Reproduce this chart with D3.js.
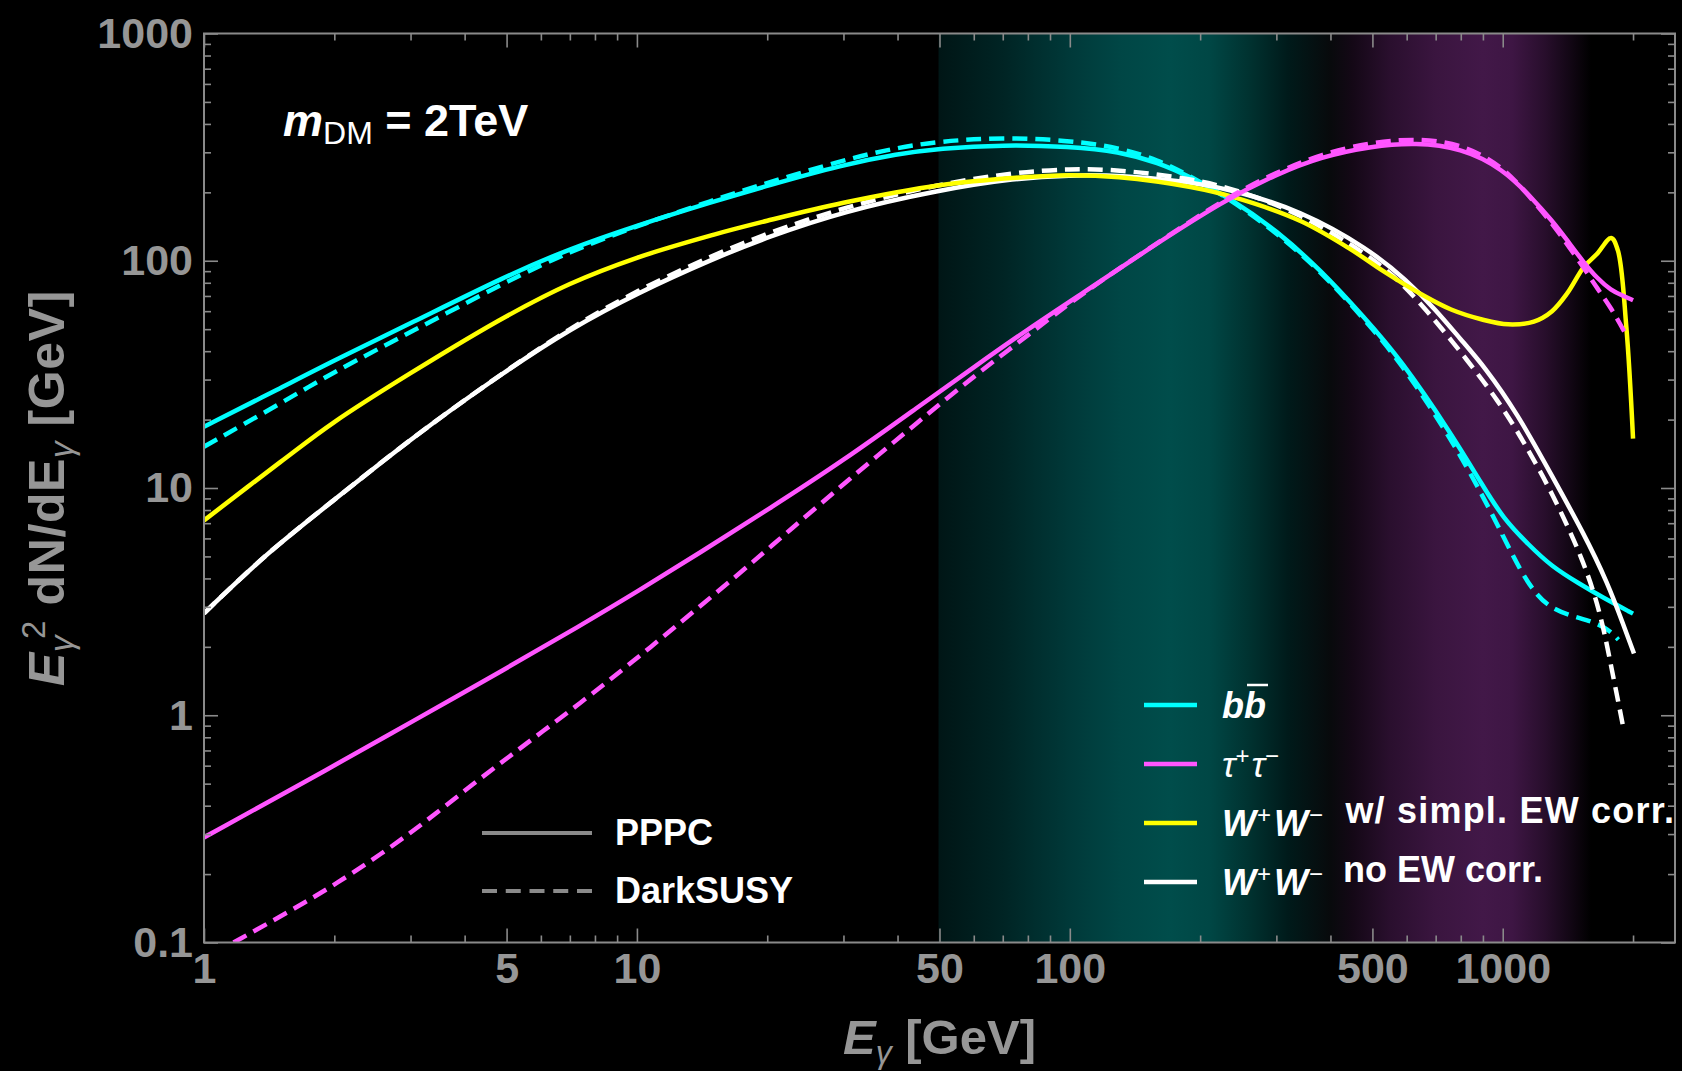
<!DOCTYPE html>
<html>
<head>
<meta charset="utf-8">
<script src="https://cdn.jsdelivr.net/npm/d3@7"></script>
<style>
  html, body { margin: 0; padding: 0; background: #000; }
  svg { display: block; }
  text { font-family: "Liberation Sans", Arial, Helvetica, sans-serif; white-space: pre; }
</style>
</head>
<body>
<div id="chart"></div>
<script>
// [E_gamma (GeV), E^2 dN/dE (GeV)], m_DM = 2 TeV
const bbPPPC = [[1, 18.6], [1.5, 27.5], [2, 36.5], [3, 53], [5, 86], [7, 113], [10, 143], [15, 182], [20, 214],
  [30, 265], [40, 295], [50, 312], [70, 324], [100, 318], [130, 303], [160, 270], [190, 234], [240, 183],
  [300, 136], [380, 91], [480, 56], [580, 37], [760, 17.4], [900, 10.2], [1000, 7.4], [1150, 5.6], [1300, 4.5],
  [1500, 3.8], [1700, 3.3], [2000, 2.8]];
const bbDarkSUSY = [[1, 15.2], [1.5, 23.5], [2, 32.5], [3, 48.5], [5, 81], [7, 110], [10, 142], [15, 185], [20, 220],
  [30, 278], [40, 315], [50, 335], [70, 350], [100, 338], [130, 315], [160, 278], [190, 236], [240, 181],
  [300, 133], [380, 90], [480, 55], [580, 36], [760, 16.5], [900, 9.2], [1000, 6.2], [1100, 4.3], [1200, 3.35],
  [1300, 2.95], [1450, 2.72], [1600, 2.6], [1750, 2.4], [1850, 2.15]];
const tauPPPC = [[1, 0.29], [2, 0.6], [3, 0.93], [5, 1.61], [7.4, 2.48], [10, 3.49], [14, 5.2], [20, 8.0], [30, 13.2],
  [45, 23], [60, 34], [80, 50], [107, 72], [150, 111], [228, 185], [300, 240], [380, 287], [500, 320], [630, 331],
  [800, 314], [1000, 255], [1180, 185], [1300, 150], [1400, 125], [1540, 98], [1650, 84], [1780, 74], [1900, 70],
  [2000, 67]];
const tauDarkSUSY = [[1.17, 0.1], [1.5, 0.13], [2, 0.178], [3, 0.3], [4.07, 0.48], [5.5, 0.74], [7.4, 1.13], [10, 1.78],
  [12, 2.37], [17, 4.1], [22.5, 6.5], [30.7, 10.8], [45, 19.8], [60, 31], [80, 47], [107, 72], [150, 111],
  [228, 188], [300, 245], [380, 295], [500, 333], [630, 345], [800, 328], [1000, 262], [1180, 182], [1300, 146],
  [1400, 120], [1540, 93], [1650, 76], [1780, 62], [1910, 48.7]];
const wwSimplEW = [[1, 7.2], [1.5, 13], [2, 19.5], [3, 32], [5, 57], [7, 79], [10, 103], [15, 130], [20, 150],
  [30, 180], [50, 215], [75, 232], [100, 238], [130, 233], [190, 211], [240, 190], [340, 150], [440, 114], [530, 90],
  [650, 71], [760, 61], [900, 55], [1030, 52.5], [1180, 54], [1300, 60], [1410, 72], [1540, 94], [1650, 107],
  [1780, 126], [1845, 111], [1930, 51], [2000, 16.5]];
const wwNoEW = [[1, 2.81], [1.4, 5.2], [2, 8.85], [3, 16.5], [5, 33], [7, 50], [10, 72], [15, 102], [20, 127],
  [30, 165], [50, 205], [75, 231], [100, 238], [130, 238], [190, 223], [240, 204], [340, 167], [490, 113], [600, 82],
  [700, 61], [800, 45], [910, 34], [1080, 21.3], [1290, 11.6], [1540, 6.3], [1750, 3.8], [1900, 2.5], [2010, 1.87]];
const wwNoEWDarkSUSY = [[1, 2.81], [1.4, 5.2], [2, 8.85], [3, 16.5], [5, 33], [7, 50.5], [10, 74], [15, 106], [20, 132],
  [30, 172], [50, 218], [75, 245], [100, 254], [130, 252], [190, 230], [240, 207], [340, 162], [490, 106], [600, 77],
  [760, 45], [990, 23.6], [1150, 14.5], [1290, 9.8], [1540, 4.8], [1690, 2.72], [1780, 1.64], [1845, 1.17], [1893, 0.91]];

// background shading: [E, colour]
const backgroundStops = [[1, "#000"], [49.5, "#000"], [50, "rgb(0,22,22)"], [70, "rgb(0,36,36)"], [100, "rgb(0,57,57)"],
  [130, "rgb(0,70,69)"], [170, "rgb(0,77,75)"], [210, "rgb(0,71,69)"], [260, "rgb(0,50,48)"], [320, "rgb(0,26,26)"],
  [400, "rgb(8,10,12)"], [450, "rgb(20,8,22)"], [550, "rgb(42,15,46)"], [700, "rgb(58,21,63)"], [900, "rgb(66,24,72)"],
  [1050, "rgb(62,22,68)"], [1250, "rgb(40,14,44)"], [1450, "rgb(16,6,18)"], [1600, "#000"], [2500, "#000"]];

const xDomain = [1, 2500];
const yDomain = [0.1, 1000];
const xTickMajor = [1, 5, 10, 50, 100, 500, 1000];
const yTickMajor = [0.1, 1, 10, 100, 1000];

const series = [
  { data: bbPPPC, color: "#00ffff", dash: null, curve: d3.curveBasis },
  { data: bbDarkSUSY, color: "#00ffff", dash: "15,8", curve: d3.curveBasis },
  { data: wwNoEW, color: "#ffffff", dash: null, curve: d3.curveBasis },
  { data: wwNoEWDarkSUSY, color: "#ffffff", dash: "15,8", curve: d3.curveBasis },
  { data: wwSimplEW, color: "#ffff00", dash: null, curve: d3.curveCatmullRom.alpha(0.5) },
  { data: tauPPPC, color: "#ff55ff", dash: null, curve: d3.curveBasis },
  { data: tauDarkSUSY, color: "#ff55ff", dash: "15,8", curve: d3.curveBasis }
];

const W = 1682, H = 1071;
const margin = { top: 33.5, right: 7, bottom: 128.5, left: 204 };
const width = W - margin.left - margin.right;
const height = H - margin.top - margin.bottom;
const axisColor = "#969696";
const frameColor = "#8a8a8a";

const svg = d3.select("#chart").append("svg").attr("width", W).attr("height", H);
const defs = svg.append("defs");
const g = svg.append("g").attr("transform", `translate(${margin.left},${margin.top})`);

const x = d3.scaleLog().domain(xDomain).range([0, width]);
const y = d3.scaleLog().domain(yDomain).range([height, 0]);

defs.append("clipPath").attr("id", "plot-clip")
  .append("rect").attr("width", width).attr("height", height);

const grad = defs.append("linearGradient").attr("id", "bands")
  .attr("gradientUnits", "userSpaceOnUse")
  .attr("x1", 0).attr("x2", width).attr("y1", 0).attr("y2", 0);
grad.selectAll("stop").data(backgroundStops).join("stop")
  .attr("offset", d => x(d[0]) / width)
  .attr("stop-color", d => d[1]);

g.append("rect").attr("width", width).attr("height", height).attr("fill", "url(#bands)");

// curves
g.append("g").attr("clip-path", "url(#plot-clip)")
  .selectAll("path").data(series).join("path")
  .attr("d", d => d3.line().x(p => x(p[0])).y(p => y(p[1])).curve(d.curve)(d.data))
  .attr("fill", "none")
  .attr("stroke", d => d.color)
  .attr("stroke-width", 4.5)
  .attr("stroke-dasharray", d => d.dash);

// axes: major + minor ticks on all four sides, pointing inward
const xMinor = x.ticks().filter(v => !xTickMajor.includes(v));
const yMinor = y.ticks().filter(v => !yTickMajor.includes(v));
const fmt = d => String(d);

function styleAxis(sel) {
  sel.select(".domain").remove();
  sel.selectAll(".tick line").attr("stroke", frameColor).attr("stroke-width", 1.6);
  sel.selectAll(".tick text").attr("fill", axisColor)
    .style("font-size", "43px").style("font-weight", "bold");
}

g.append("g").attr("transform", `translate(0,${height})`)
  .call(d3.axisBottom(x).tickValues(xTickMajor).tickFormat(fmt).tickSize(-14).tickPadding(10))
  .call(styleAxis);
g.append("g").attr("transform", `translate(0,${height})`)
  .call(d3.axisBottom(x).tickValues(xMinor).tickFormat("").tickSize(-7))
  .call(styleAxis);
g.append("g")
  .call(d3.axisTop(x).tickValues(xTickMajor).tickFormat("").tickSize(-14))
  .call(styleAxis);
g.append("g")
  .call(d3.axisTop(x).tickValues(xMinor).tickFormat("").tickSize(-7))
  .call(styleAxis);

g.append("g")
  .call(d3.axisLeft(y).tickValues(yTickMajor).tickFormat(fmt).tickSize(-14).tickPadding(11))
  .call(styleAxis);
g.append("g")
  .call(d3.axisLeft(y).tickValues(yMinor).tickFormat("").tickSize(-7))
  .call(styleAxis);
g.append("g").attr("transform", `translate(${width},0)`)
  .call(d3.axisRight(y).tickValues(yTickMajor).tickFormat("").tickSize(-14))
  .call(styleAxis);
g.append("g").attr("transform", `translate(${width},0)`)
  .call(d3.axisRight(y).tickValues(yMinor).tickFormat("").tickSize(-7))
  .call(styleAxis);

g.append("rect").attr("width", width).attr("height", height)
  .attr("fill", "none").attr("stroke", frameColor).attr("stroke-width", 2);

// axis titles
const xTitle = svg.append("text")
  .attr("x", margin.left + width / 2).attr("y", 1054)
  .attr("text-anchor", "middle").attr("fill", axisColor)
  .style("font-size", "49px").style("font-weight", "bold");
xTitle.append("tspan").style("font-style", "italic").text("E");
xTitle.append("tspan").attr("dy", 9).style("font-size", "32px").style("font-style", "italic")
  .style("font-weight", "normal").text("γ");
xTitle.append("tspan").attr("dy", -9).text(" [GeV]");

const yTitle = svg.append("text")
  .attr("transform", `translate(64,${margin.top + height / 2}) rotate(-90)`)
  .attr("text-anchor", "middle").attr("fill", axisColor)
  .style("font-size", "50px").style("font-weight", "bold").style("letter-spacing", "0.6px");
yTitle.append("tspan").style("font-style", "italic").text("E");
yTitle.append("tspan").attr("dy", 9).style("font-size", "33px").style("font-style", "italic")
  .style("font-weight", "normal").text("γ");
yTitle.append("tspan").attr("dx", -4).attr("dy", -28).style("font-size", "33px")
  .style("font-weight", "normal").text("2");
yTitle.append("tspan").attr("dy", 19).text(" dN/dE");
yTitle.append("tspan").attr("dy", 9).style("font-size", "33px").style("font-style", "italic")
  .style("font-weight", "normal").text("γ");
yTitle.append("tspan").attr("dy", -9).text(" [GeV]");

// m_DM annotation
const mdm = svg.append("text").attr("x", 283).attr("y", 136).attr("fill", "#fff")
  .style("font-size", "45px").style("font-weight", "bold");
mdm.append("tspan").style("font-style", "italic").text("m");
mdm.append("tspan").attr("dy", 8).style("font-size", "32px").style("font-weight", "normal").text("DM");
mdm.append("tspan").attr("dy", -8).text(" = 2TeV");

// legend: PPPC / DarkSUSY
const styleLegend = [
  { label: "PPPC", dash: null },
  { label: "DarkSUSY", dash: "15,8.75" }
];
const leg1 = svg.append("g").selectAll("g").data(styleLegend).join("g")
  .attr("transform", (d, i) => `translate(482,${833 + i * 58})`);
leg1.append("line").attr("x1", 0).attr("x2", 110)
  .attr("stroke", frameColor).attr("stroke-width", 4).attr("stroke-dasharray", d => d.dash);
leg1.append("text").attr("x", 133).attr("y", 12).attr("fill", "#fff")
  .style("font-size", "36px").style("font-weight", "bold").text(d => d.label);

// legend: channels
const channelLegend = ["#00ffff", "#ff55ff", "#ffff00", "#ffffff"];
const leg2 = svg.append("g").selectAll("g").data(channelLegend).join("g")
  .attr("transform", (d, i) => `translate(1144,${705 + i * 59})`);
leg2.append("line").attr("x1", 0).attr("x2", 53)
  .attr("stroke", d => d).attr("stroke-width", 4.5);
const labels = leg2.append("text").attr("x", 78).attr("y", 13).attr("fill", "#fff")
  .style("font-size", "36px").style("font-weight", "bold");

function wPair(t) {
  t.append("tspan").style("font-style", "italic").text("W");
  t.append("tspan").attr("dx", 1).attr("dy", -13).style("font-size", "24px").style("font-weight", "normal").text("+");
  t.append("tspan").attr("dx", 3).attr("dy", 13).style("font-style", "italic").text("W");
  t.append("tspan").attr("dx", 1).attr("dy", -13).style("font-size", "24px").style("font-weight", "normal").text("−");
  t.append("tspan").attr("dy", 13).text("");
}

labels.each(function (d, i) {
  const t = d3.select(this);
  if (i === 0) {
    t.append("tspan").style("font-style", "italic").text("b");
    t.append("tspan").style("font-style", "italic").text("b");
    const node = t.node();
    const w1 = node.getSubStringLength(0, 1);
    const w2 = node.getSubStringLength(1, 1);
    d3.select(this.parentNode).append("line")
      .attr("x1", 78 + w1 + 3).attr("x2", 78 + w1 + w2 + 2)
      .attr("y1", -20).attr("y2", -20)
      .attr("stroke", "#fff").attr("stroke-width", 2.5);
  } else if (i === 1) {
    t.style("font-weight", "normal");
    t.append("tspan").style("font-style", "italic").text("τ");
    t.append("tspan").attr("dy", -13).style("font-size", "24px").text("+");
    t.append("tspan").attr("dx", 2).attr("dy", 13).style("font-style", "italic").text("τ");
    t.append("tspan").attr("dy", -13).style("font-size", "24px").text("−");
  } else if (i === 2) {
    wPair(t);
    t.append("tspan").style("letter-spacing", "1.2px").text("  w/ simpl. EW corr.");
  } else {
    wPair(t);
    t.append("tspan").attr("dx", 10).text(" no EW corr.");
  }
});
</script>
</body>
</html>
